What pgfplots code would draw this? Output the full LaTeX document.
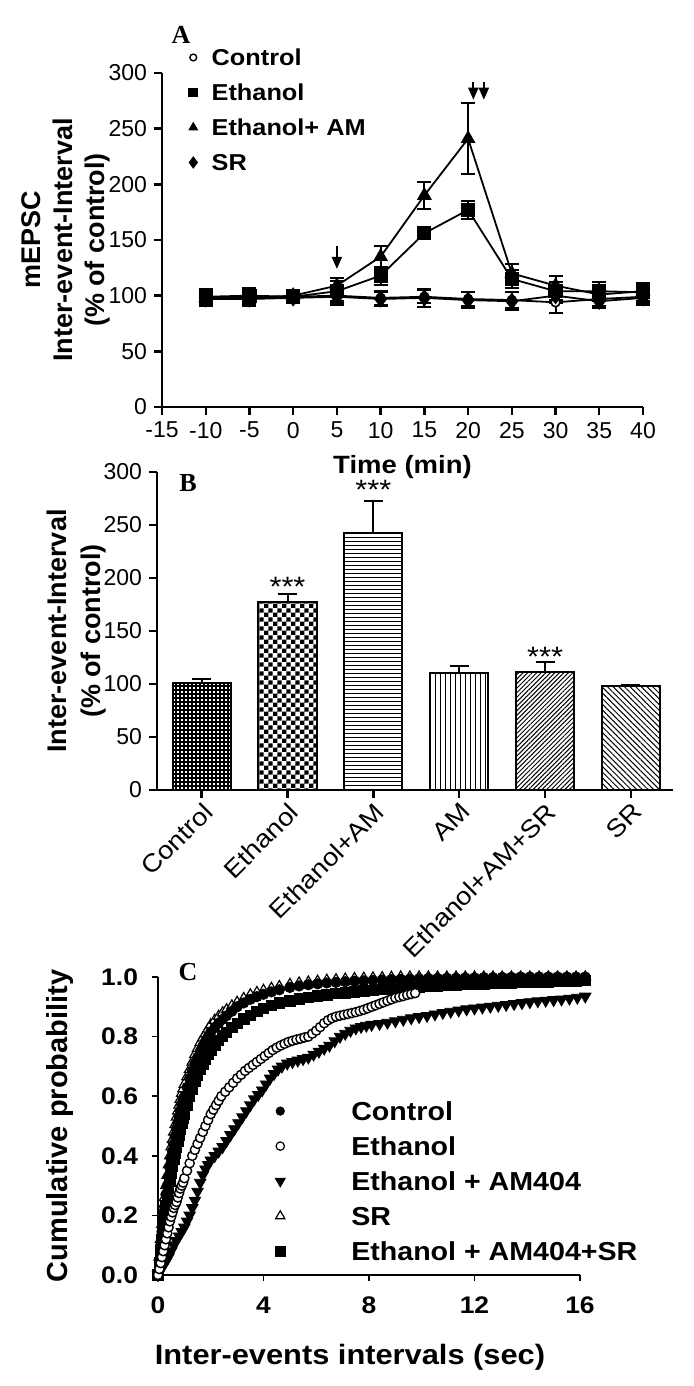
\documentclass[border=0pt]{standalone}
\usepackage{fontspec}
\setmainfont{Liberation Sans}[FakeStretch=1.1]
\newfontfamily\rotfont{Liberation Sans}
\newfontfamily\tickfont{Liberation Sans}
\newfontfamily\letterfont{Liberation Serif}
\usepackage{pgfplots}
\pgfplotsset{compat=1.18}
\usetikzlibrary{patterns,patterns.meta,arrows.meta}
\pgfdeclarepatternformonly{finecheck}{\pgfqpoint{0pt}{0pt}}{\pgfqpoint{4.4pt}{4.4pt}}{\pgfqpoint{4.4pt}{4.4pt}}{%
  \pgfpathrectangle{\pgfqpoint{0pt}{0pt}}{\pgfqpoint{2.2pt}{2.2pt}}%
  \pgfpathrectangle{\pgfqpoint{2.2pt}{2.2pt}}{\pgfqpoint{2.2pt}{2.2pt}}%
  \pgfusepath{fill}}
\pgfplotsset{
  panel/.style={scale only axis, axis lines=left, axis line style={-, line width=1.3pt},
    tick align=outside, major tick length=4pt, tick style={black, line width=1.2pt},
    /pgf/number format/assume math mode=true, clip=false, legend cell align=left},
}
\begin{document}
\begin{tikzpicture}
\useasboundingbox (0,0) rectangle (346.5pt,693pt);
% ---------------- Panel A ----------------
\begin{axis}[panel, at={(81pt,489.5pt)}, anchor=south west, width=240.5pt, height=167pt,
 xmin=-15, xmax=40, ymin=0, ymax=300, xtick={-15,-10,...,40}, ytick={0,50,...,300},
 tick label style={font=\fontsize{11.5}{12}\tickfont},
 xlabel={Time (min)},
 xlabel style={font=\fontsize{12.5}{14}\selectfont\bfseries, at={(axis description cs:0.5,-0.18)}, anchor=center},
 ylabel={mEPSC\\Inter-event-Interval\\(\% of control)},
 ylabel style={font=\fontsize{13.5}{16}\rotfont\bfseries, align=center, at={(axis description cs:-0.2,0.5)}, anchor=center},
 legend style={at={(axis cs:-11.97,330)}, anchor=north west, draw=none, fill=none, inner sep=0pt,
   font=\fontsize{11.5}{13}\selectfont\bfseries, nodes={text height=12pt, text depth=3.5pt, inner sep=1pt},
   /tikz/every odd column/.style={column sep=6pt}},
 legend image code/.code={\draw[#1] plot coordinates {(0pt,0pt)};},
 error bars/y dir=both, error bars/y explicit,
 error bars/error mark options={rotate=90, mark size=3.5pt, line width=1pt},
 error bars/error bar style={line width=1pt},
]
\addlegendimage{only marks, mark=*, mark options={fill=white, line width=0.7pt}, mark size=1.7pt}
\addlegendentry{Control}
\addlegendimage{only marks, mark=square*, mark size=2.2pt}
\addlegendentry{Ethanol}
\addlegendimage{only marks, mark=triangle*, mark size=2.5pt}
\addlegendentry{Ethanol+ AM}
\addlegendimage{only marks, mark=diamond*, mark size=2.8pt}
\addlegendentry{SR}
\addplot[forget plot, black, line width=0.9pt, mark=*, mark size=2.2pt, mark options={fill=white, line width=0.8pt}]
 coordinates {(-10,98)+-(0,6) (-5,98)+-(0,6) (0,99)+-(0,5) (5,100)+-(0,7) (10,98)+-(0,6) (15,99)+-(0,6) (20,97)+-(0,6) (25,96)+-(0,7) (30,94)+-(0,10) (35,97)+-(0,6) (40,99)+-(0,6)};
\addplot[forget plot, black, line width=0.9pt, mark=diamond*, mark size=3.6pt]
 coordinates {(-10,97)+-(0,6) (-5,97)+-(0,6) (0,98)+-(0,5) (5,99)+-(0,7) (10,97)+-(0,6) (15,98)+-(0,8) (20,96)+-(0,7) (25,95)+-(0,8) (30,100)+-(0,7) (35,95)+-(0,6) (40,98)+-(0,6)};
\addplot[forget plot, black, line width=0.9pt, mark=triangle*, mark size=3.4pt]
 coordinates {(-10,98)+-(0,5) (-5,98)+-(0,5) (0,100)+-(0,5) (5,109)+-(0,7) (10,135)+-(0,10) (15,190)+-(0,12) (20,241)+-(0,32) (25,120)+-(0,8) (30,109)+-(0,9) (35,101)+-(0,6) (40,104)+-(0,6)};
\addplot[forget plot, black, line width=0.9pt, mark=square*, mark size=3.1pt]
 coordinates {(-10,99)+-(0,7) (-5,100)+-(0,7) (0,99)+-(0,5) (5,104)+-(0,9) (10,118)+-(0,8) (15,156)+-(0,5) (20,177)+-(0,8) (25,115)+-(0,8) (30,104)+-(0,8) (35,104)+-(0,8) (40,103)+-(0,8)};
\draw[-{Triangle[length=6pt,width=5pt]}, line width=1pt] (axis cs:5,145) -- (axis cs:5,124);
\draw[-{Triangle[length=6pt,width=5pt]}, line width=1pt] (axis cs:20.6,292) -- (axis cs:20.6,276);
\draw[-{Triangle[length=6pt,width=5pt]}, line width=1pt] (axis cs:21.8,292) -- (axis cs:21.8,276);
\end{axis}
\node[font=\fontsize{13}{13}\letterfont\bfseries] at (90.5pt,675.5pt) {A};
% ---------------- Panel B ----------------
\begin{axis}[panel, at={(78.5pt,298pt)}, anchor=south west, width=258pt, height=159pt,
 xmin=-0.52, xmax=5.49, ymin=0, ymax=300, ytick={0,50,...,300}, xtick={0,1,2,3,4,5},
 xticklabels={Control,Ethanol,Ethanol+AM,AM,Ethanol+AM+SR,SR},
 y tick label style={font=\fontsize{11.5}{12}\tickfont},
 x tick label style={font=\fontsize{12.5}{14}\selectfont, rotate=45, anchor=north east, inner sep=1pt},
 ylabel={Inter-event-Interval\\(\% of control)},
 ylabel style={font=\fontsize{13.5}{17}\rotfont\bfseries, align=center, at={(axis description cs:-0.155,0.5)}, anchor=center},
 ybar, bar width=0.676,
 error bars/y dir=plus, error bars/y explicit,
 error bars/error mark options={rotate=90, mark size=4.75pt, line width=1pt},
 error bars/error bar style={line width=1pt},
]
\addplot[bar shift=0pt, draw=black, line width=1pt, pattern={Hatch[angle=0,distance=2pt,line width=0.6pt]}] coordinates {(0,100.5)+-(0,4)};
\addplot[bar shift=0pt, draw=black, line width=1pt, pattern=finecheck] coordinates {(1,177)+-(0,7.5)};
\addplot[bar shift=0pt, draw=black, line width=1pt, pattern={Lines[angle=0,distance=2pt,line width=0.5pt]}] coordinates {(2,242)+-(0,31)};
\addplot[bar shift=0pt, draw=black, line width=1pt, pattern={Lines[angle=90,distance=2.5pt,line width=0.5pt]}] coordinates {(3,110)+-(0,7)};
\addplot[bar shift=0pt, draw=black, line width=1pt, pattern={Lines[angle=45,distance=1.6pt,line width=0.5pt]}] coordinates {(4,111.5)+-(0,9.5)};
\addplot[bar shift=0pt, draw=black, line width=1pt, pattern={Lines[angle=-45,distance=2pt,line width=0.5pt]}] coordinates {(5,98)+-(0,1)};
\node[font=\fontsize{14}{14}\selectfont, yshift=-2.5pt] at (axis cs:1,196) {***};
\node[font=\fontsize{14}{14}\selectfont, yshift=-2.5pt] at (axis cs:2,287.5) {***};
\node[font=\fontsize{14}{14}\selectfont, yshift=-2.5pt] at (axis cs:4,130.4) {***};
\end{axis}
\node[font=\fontsize{13}{13}\letterfont\bfseries] at (94pt,451.5pt) {B};
% ---------------- Panel C ----------------
\begin{axis}[panel, axis line style={-, line width=1pt}, tick style={black, line width=0.8pt}, major tick length=3pt,
 at={(79pt,55.5pt)}, anchor=south west, width=211pt, height=149pt,
 xmin=0, xmax=16, ymin=0, ymax=1, xtick={0,4,8,12,16}, ytick={0,0.2,0.4,0.6,0.8,1},
 yticklabel style={/pgf/number format/fixed, /pgf/number format/fixed zerofill, /pgf/number format/precision=1},
 tick label style={font=\fontsize{12}{14}\selectfont\bfseries},
 y tick label style={xshift=-3.5pt}, x tick label style={yshift=-4.5pt},
 xlabel={Inter-events intervals (sec)},
 xlabel style={font=\fontsize{14}{16}\selectfont\bfseries, at={(axis description cs:0.455,-0.275)}, anchor=center},
 ylabel={Cumulative probability},
 ylabel style={font=\fontsize{14.5}{16}\rotfont\bfseries, at={(axis description cs:-0.232,0.5)}, anchor=center},
 legend style={at={(axis cs:4.43,0.61)}, anchor=north west, draw=none, fill=none, inner sep=0pt,
   font=\fontsize{13}{15}\selectfont\bfseries, nodes={text height=12.5pt, text depth=3pt, inner sep=1pt},
   /tikz/every odd column/.style={column sep=32pt}},
 legend image code/.code={\draw[#1] plot coordinates {(0pt,0pt)};},
]
\addlegendimage{only marks, mark=*, mark size=2.1pt}
\addlegendentry{Control}
\addlegendimage{only marks, mark=*, mark options={fill=white, line width=0.6pt}, mark size=2.1pt}
\addlegendentry{Ethanol}
\addlegendimage{only marks, mark=triangle*, mark options={rotate=180}, mark size=2.9pt}
\addlegendentry{Ethanol + AM404}
\addlegendimage{only marks, mark=triangle*, mark options={fill=white, line width=0.6pt}, mark size=2.7pt}
\addlegendentry{SR}
\addlegendimage{only marks, mark=square*, mark size=2.4pt}
\addlegendentry{Ethanol + AM404+SR}
% SR (open triangles)
\addplot[forget plot, only marks, mark=triangle*, mark size=3pt, mark options={fill=white, draw=black, line width=0.6pt}] coordinates {
(0,0)(0.05,0.06)(0.1,0.12)(0.15,0.17)(0.2,0.22)(0.25,0.26)(0.3,0.30)(0.35,0.335)(0.4,0.37)(0.45,0.40)(0.5,0.43)(0.55,0.455)(0.6,0.48)(0.65,0.505)(0.7,0.53)(0.75,0.55)(0.8,0.57)(0.85,0.59)(0.9,0.61)(0.95,0.625)(1.0,0.64)(1.1,0.665)(1.2,0.69)(1.3,0.715)(1.4,0.74)(1.5,0.76)(1.6,0.78)(1.7,0.795)(1.8,0.81)(1.9,0.825)(2.0,0.84)(2.15,0.855)(2.3,0.868)(2.45,0.88)(2.6,0.89)(2.8,0.903)(3.0,0.915)(3.25,0.928)(3.5,0.94)(3.75,0.948)(4.0,0.955)(4.3,0.962)(4.6,0.968)(5.0,0.975)(5.35,0.98)(5.7,0.983)(6.05,0.986)(6.4,0.989)(6.75,0.991)(7.1,0.993)(7.45,0.995)(7.8,0.996)(8.15,0.997)(8.5,0.998)(8.85,0.999)(9.2,1)(9.55,1)(9.9,1)(10.25,1)(10.6,1)(10.95,1)(11.3,1)(11.65,1)(12.0,1)(12.35,1)(12.7,1)(13.05,1)(13.4,1)(13.75,1)(14.1,1)(14.45,1)(14.8,1)(15.15,1)(15.5,1)(15.85,1)(16.2,1)};
% Control (filled circles)
\addplot[forget plot, only marks, mark=*, mark size=2.6pt, black] coordinates {
(0,0)(0.05,0.05)(0.1,0.1)(0.15,0.145)(0.2,0.19)(0.25,0.23)(0.3,0.27)(0.35,0.30)(0.4,0.33)(0.45,0.36)(0.5,0.39)(0.55,0.415)(0.6,0.44)(0.65,0.465)(0.7,0.49)(0.75,0.51)(0.8,0.53)(0.85,0.55)(0.9,0.57)(0.95,0.585)(1.0,0.60)(1.1,0.63)(1.2,0.66)(1.3,0.685)(1.4,0.71)(1.5,0.73)(1.6,0.75)(1.7,0.768)(1.8,0.785)(1.9,0.80)(2.0,0.815)(2.15,0.83)(2.3,0.845)(2.45,0.858)(2.6,0.87)(2.8,0.885)(3.0,0.90)(3.25,0.913)(3.5,0.925)(3.75,0.934)(4.0,0.942)(4.3,0.95)(4.6,0.957)(5.0,0.965)(5.35,0.97)(5.7,0.974)(6.05,0.977)(6.4,0.98)(6.75,0.982)(7.1,0.984)(7.45,0.986)(7.8,0.987)(8.15,0.988)(8.5,0.99)(8.85,0.991)(9.2,0.992)(9.55,0.993)(9.9,0.994)(10.25,0.995)(10.6,0.995)(10.95,0.996)(11.3,0.996)(11.65,0.997)(12.0,0.997)(12.35,0.998)(12.7,0.998)(13.05,0.999)(13.4,0.999)(13.75,1)(14.1,1)(14.45,1)(14.8,1)(15.15,1)(15.5,1)(15.85,1)(16.2,1)};
% Ethanol + AM404 + SR (filled squares)
\addplot[forget plot, only marks, mark=square*, mark size=2.6pt, black] coordinates {
(0,0)(0.05,0.04)(0.1,0.08)(0.15,0.12)(0.2,0.16)(0.25,0.195)(0.3,0.23)(0.35,0.26)(0.4,0.29)(0.45,0.315)(0.5,0.34)(0.55,0.365)(0.6,0.39)(0.65,0.41)(0.7,0.43)(0.75,0.45)(0.8,0.47)(0.85,0.49)(0.9,0.51)(0.95,0.525)(1.0,0.54)(1.1,0.57)(1.2,0.60)(1.3,0.625)(1.4,0.65)(1.5,0.67)(1.6,0.69)(1.7,0.708)(1.8,0.725)(1.9,0.74)(2.0,0.755)(2.15,0.772)(2.3,0.788)(2.45,0.802)(2.6,0.815)(2.8,0.83)(3.0,0.845)(3.25,0.86)(3.5,0.872)(3.75,0.884)(4.0,0.895)(4.3,0.905)(4.6,0.913)(5.0,0.92)(5.35,0.926)(5.7,0.931)(6.05,0.936)(6.4,0.94)(6.75,0.944)(7.1,0.947)(7.45,0.95)(7.8,0.953)(8.15,0.956)(8.5,0.958)(8.85,0.96)(9.2,0.962)(9.55,0.964)(9.9,0.966)(10.25,0.968)(10.6,0.97)(10.95,0.972)(11.3,0.973)(11.65,0.975)(12.0,0.976)(12.35,0.977)(12.7,0.978)(13.05,0.979)(13.4,0.98)(13.75,0.981)(14.1,0.982)(14.45,0.983)(14.8,0.984)(15.15,0.985)(15.5,0.986)(15.85,0.987)(16.2,0.988)};
% Ethanol + AM404 (filled down triangles)
\addplot[forget plot, only marks, mark=triangle*, mark size=3.3pt, mark options={rotate=180}, black] coordinates {
(0,0)(0.1,0.015)(0.2,0.03)(0.3,0.045)(0.4,0.06)(0.5,0.08)(0.6,0.10)(0.7,0.115)(0.8,0.13)(0.9,0.145)(1.0,0.16)(1.1,0.18)(1.2,0.20)(1.3,0.225)(1.4,0.25)(1.5,0.28)(1.6,0.31)(1.7,0.335)(1.8,0.355)(1.9,0.37)(2.0,0.385)(2.15,0.40)(2.3,0.415)(2.45,0.43)(2.6,0.45)(2.75,0.47)(2.9,0.49)(3.05,0.51)(3.2,0.53)(3.35,0.55)(3.5,0.57)(3.65,0.59)(3.8,0.605)(3.95,0.62)(4.1,0.64)(4.25,0.66)(4.4,0.675)(4.55,0.69)(4.7,0.70)(4.9,0.71)(5.1,0.715)(5.3,0.72)(5.5,0.725)(5.7,0.73)(5.9,0.74)(6.1,0.75)(6.3,0.76)(6.5,0.77)(6.7,0.785)(6.9,0.80)(7.1,0.81)(7.3,0.82)(7.5,0.828)(7.7,0.833)(7.9,0.837)(8.1,0.84)(8.4,0.843)(8.7,0.847)(9.0,0.852)(9.3,0.857)(9.6,0.862)(9.9,0.866)(10.2,0.87)(10.5,0.875)(10.8,0.88)(11.1,0.884)(11.4,0.888)(11.7,0.892)(12.0,0.895)(12.3,0.898)(12.6,0.901)(12.9,0.904)(13.2,0.907)(13.5,0.91)(13.8,0.913)(14.1,0.916)(14.4,0.919)(14.7,0.921)(15.0,0.923)(15.3,0.925)(15.6,0.928)(15.9,0.931)(16.2,0.935)};
% Ethanol (open circles)
\addplot[forget plot, only marks, mark=*, mark size=2.3pt, mark options={fill=white, draw=black, line width=0.7pt}] coordinates {
(0,0)(0.05,0.02)(0.1,0.04)(0.15,0.06)(0.2,0.08)(0.25,0.10)(0.3,0.12)(0.35,0.14)(0.4,0.16)(0.45,0.18)(0.5,0.195)(0.55,0.21)(0.6,0.225)(0.65,0.235)(0.7,0.245)(0.75,0.26)(0.8,0.275)(0.85,0.29)(0.9,0.30)(0.95,0.31)(1.0,0.325)(1.1,0.35)(1.2,0.375)(1.3,0.40)(1.4,0.42)(1.5,0.44)(1.6,0.46)(1.7,0.48)(1.8,0.50)(1.9,0.52)(2.0,0.54)(2.1,0.555)(2.2,0.57)(2.3,0.585)(2.4,0.60)(2.55,0.615)(2.7,0.63)(2.85,0.645)(3.0,0.66)(3.15,0.672)(3.3,0.685)(3.45,0.695)(3.6,0.705)(3.75,0.715)(3.9,0.725)(4.05,0.735)(4.2,0.745)(4.35,0.755)(4.5,0.763)(4.65,0.77)(4.8,0.776)(4.95,0.782)(5.1,0.786)(5.25,0.79)(5.4,0.793)(5.55,0.797)(5.7,0.80)(5.85,0.81)(6.0,0.82)(6.15,0.832)(6.3,0.845)(6.45,0.855)(6.6,0.862)(6.75,0.867)(6.9,0.87)(7.05,0.873)(7.2,0.876)(7.35,0.879)(7.5,0.882)(7.65,0.886)(7.8,0.89)(7.95,0.895)(8.1,0.90)(8.25,0.905)(8.4,0.91)(8.55,0.915)(8.7,0.92)(8.85,0.925)(9.0,0.93)(9.15,0.933)(9.3,0.936)(9.45,0.94)(9.6,0.943)(9.75,0.946)};
\end{axis}
\node[font=\fontsize{13}{13}\letterfont\bfseries] at (94pt,207pt) {C};
\end{tikzpicture}
\end{document}
